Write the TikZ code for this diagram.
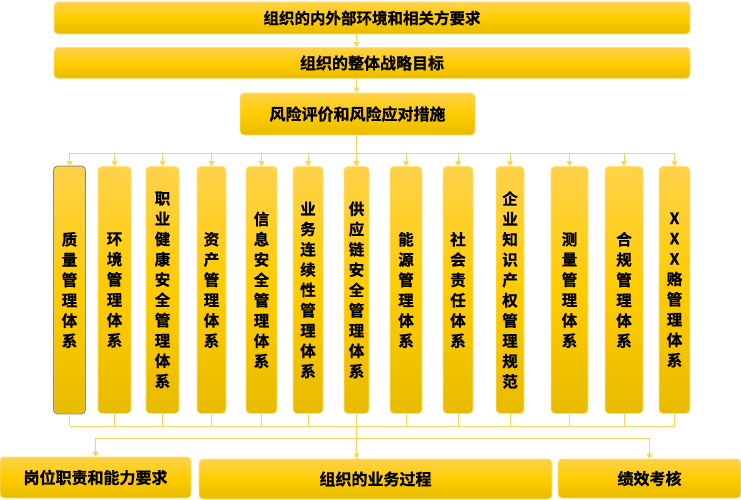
\documentclass[tikz,border=0pt]{standalone}
\usepackage{fontspec}
\newfontfamily\cjk{Noto Sans CJK SC}[BoldFont={Noto Sans CJK SC Bold}, BoldFeatures={FakeBold=0.8}]
\usetikzlibrary{calc}
\usetikzlibrary{arrows.meta, positioning}
\definecolor{goldtop}{HTML}{FFD24A}
\definecolor{goldmid}{HTML}{FFCC00}
\definecolor{goldbot}{HTML}{E8BB00}
\definecolor{goldedge}{HTML}{FFE27A}
\definecolor{goldline}{HTML}{FFD35C}
\definecolor{pickedge}{HTML}{9A8A55}

\begin{document}
\begin{tikzpicture}[x=1pt, y=-1pt,
    goldbox/.style={draw=goldedge, line width=0.8pt, rounded corners=4pt,
        top color=goldtop, bottom color=goldbot, middle color=goldmid,
        inner sep=0pt, font=\cjk\bfseries\fontsize{16}{18}\selectfont},
    colbox/.style={goldbox, minimum height=247pt, align=center,
        font=\cjk\bfseries\fontsize{15.5}{20.3}\selectfont},
    link/.style={draw=goldline, line width=0.8pt},
    flow/.style={link, -{Triangle[width=6pt,length=5pt]}}]

\fill[white] (0,0) rectangle (741,500);
\useasboundingbox (0,0) rectangle (741,500);

% Top boxes
\node[goldbox, minimum width=636pt, minimum height=32pt,
      font=\cjk\bfseries\fontsize{15.5}{18}\selectfont] (env) at (372,18) {组织的内外部环境和相关方要求};
\node[goldbox, minimum width=636pt, minimum height=31pt] (goal) at (372,63) {组织的整体战略目标};
\node[goldbox, minimum width=235pt, minimum height=42pt] (risk) at (357.5,114) {风险评价和风险应对措施};

% Management systems, one column each
\foreach \i/\x/\w/\t in {
    1/69.5/31/质\\量\\管\\理\\体\\系,
    2/114.5/33/环\\境\\管\\理\\体\\系,
    3/162.5/33/职\\业\\健\\康\\安\\全\\管\\理\\体\\系,
    4/211.5/29/资\\产\\管\\理\\体\\系,
    5/261.5/31/信\\息\\安\\全\\管\\理\\体\\系,
    6/308/30/业\\务\\连\\续\\性\\管\\理\\体\\系,
    7/356.5/25/供\\应\\链\\安\\全\\管\\理\\体\\系,
    8/406/32/能\\源\\管\\理\\体\\系,
    9/458/30/社\\会\\责\\任\\体\\系,
    10/510/28/企\\业\\知\\识\\产\\权\\管\\理\\规\\范,
    11/569.5/37/测\\量\\管\\理\\体\\系,
    12/624/38/合\\规\\管\\理\\体\\系,
    13/674.5/31/X\\X\\X\\赂\\管\\理\\体\\系}
{
    \node[colbox, minimum width=\w pt] (c\i) at (\x,290) {\t};
}
\draw[pickedge, line width=1pt, rounded corners=4pt] (c1.south west) rectangle (c1.north east);

% Bottom boxes
\node[goldbox, minimum width=191pt, minimum height=41pt] (job) at (95.5,477.5) {岗位职责和能力要求};
\node[goldbox, minimum width=353pt, minimum height=40pt] (proc) at (375.5,479) {组织的业务过程};
\node[goldbox, minimum width=183pt, minimum height=39pt] (perf) at (649.5,478.5) {绩效考核};

% Connectors
\coordinate (spread) at (356,153);
\coordinate (gather) at (356,426);
\coordinate (share) at (356,438);

\draw[flow] (env.south -| c7) -- (goal.north -| c7);
\draw[flow] (goal.south -| c7) -- (risk.north -| c7);
\draw[flow] (risk.south -| c7) -- (c7.north);
\draw[link] (c1.north |- spread) -- (c13.north |- spread);
\foreach \i in {1,...,13}
{
    \draw[flow] (c\i.north |- spread) -- (c\i.north);
    \draw[link] (c\i.south) -- (c\i.south |- gather);
}
\draw[link] (c1.south |- gather) -- (c13.south |- gather);
\draw[flow] (c7.south) -- (c7.south |- proc.north);
\draw[link] (job.north |- share) -- (perf.north |- share);
\draw[flow] (job.north |- share) -- (job.north);
\draw[flow] (perf.north |- share) -- (perf.north);

\end{tikzpicture}
\end{document}
